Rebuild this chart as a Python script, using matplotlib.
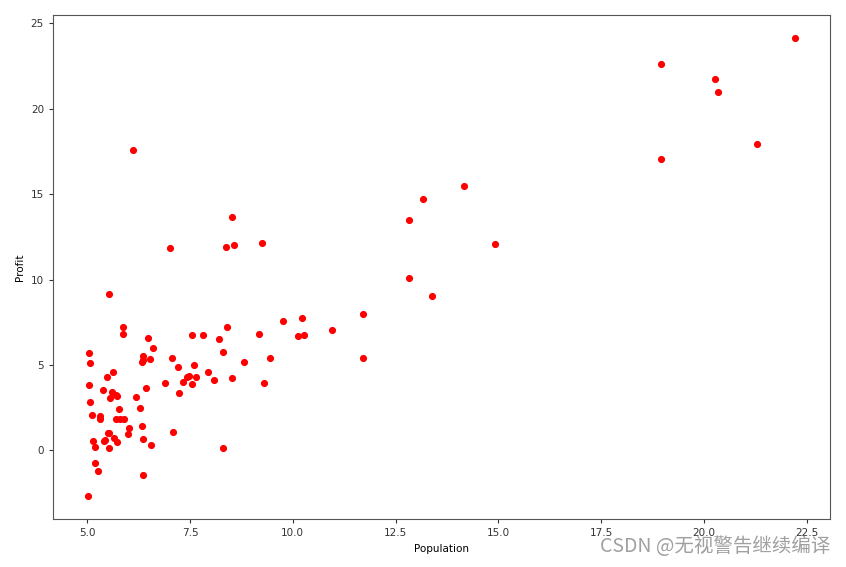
import matplotlib.pyplot as plt

population = [6.1101, 5.5277, 8.5186, 7.0032, 5.8598, 8.3829, 7.4764, 8.5781, 6.4862, 5.0546,
              5.7107, 14.164, 5.734, 8.4084, 5.6407, 5.3794, 6.3654, 5.1301, 6.4296, 7.0708,
              6.1891, 20.27, 5.4901, 6.3261, 5.5649, 18.945, 12.828, 10.957, 13.176, 22.203,
              5.2524, 6.5894, 9.2482, 5.8918, 8.2111, 7.9334, 8.0959, 5.6063, 12.836, 6.3534,
              5.4069, 6.8825, 11.708, 5.7737, 7.8247, 7.0931, 5.0702, 5.8014, 11.7, 5.5416,
              7.5402, 5.3077, 7.4239, 7.6031, 6.3328, 6.3589, 6.2742, 5.6397, 9.3102, 9.4536,
              8.8254, 5.1793, 21.279, 14.908, 18.959, 7.2182, 8.2951, 10.236, 5.4994, 20.341,
              10.136, 7.3345, 6.0062, 7.2259, 5.0269, 6.5479, 7.5386, 5.0365, 10.274, 5.1077,
              5.7292, 5.1884, 6.3557, 9.7687, 6.5159, 8.5172, 9.1802, 6.002, 5.5204, 5.0594,
              5.7077, 7.6366, 5.8707, 5.3054, 8.2934, 13.394, 5.4369]
profit = [17.592, 9.1302, 13.662, 11.854, 6.8233, 11.886, 4.3483, 12.0, 6.5987, 3.8166,
          3.2522, 15.505, 3.1551, 7.2258, 0.71618, 3.5129, 5.3048, 0.56077, 3.6518, 5.3893,
          3.1386, 21.767, 4.263, 5.1875, 3.0825, 22.638, 13.501, 7.0467, 14.692, 24.147,
          -1.22, 5.9966, 12.134, 1.8495, 6.5426, 4.5623, 4.1164, 3.3928, 10.117, 5.4974,
          0.55657, 3.9115, 5.3854, 2.4406, 6.7318, 1.0463, 5.1337, 1.844, 8.0043, 1.0179,
          6.7504, 1.8396, 4.2885, 4.9981, 1.4233, -1.4211, 2.4756, 4.6042, 3.9624, 5.4141,
          5.1694, -0.74279, 17.929, 12.054, 17.054, 4.8852, 5.7442, 7.7754, 1.0173, 20.992,
          6.6799, 4.0259, 1.2784, 3.3411, -2.6807, 0.29678, 3.8845, 5.7014, 6.7526, 2.0576,
          0.47953, 0.20421, 0.67861, 7.5435, 5.3436, 4.2415, 6.7981, 0.92695, 0.152, 2.8214,
          1.8451, 4.2959, 7.2029, 1.9869, 0.14454, 9.0551, 0.61705]

fig = plt.figure(figsize=(8.46, 5.67), dpi=100)
ax = fig.add_axes([0.0626, 0.0847, 0.9184, 0.8888])
ax.scatter(population, profit, c='red', s=17)
ax.set_xlabel("Population", fontsize=7.5)
ax.set_ylabel("Profit", fontsize=7.5)
ax.tick_params(labelsize=7.5, colors='#333333', length=3)
for s in ax.spines.values():
    s.set_color('#555555')

# watermark from the source image
fig.text(0.981, 0.018, "CSDN @无视警告继续编译", fontsize=14, color='#a0a0a0',
         ha='right', va='bottom', family=['Noto Sans CJK SC', 'DejaVu Sans'])

fig.savefig("out.png", dpi=100)
